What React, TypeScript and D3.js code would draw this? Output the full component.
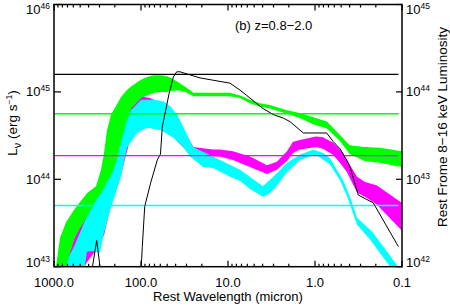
import React from 'react';
import * as d3 from 'd3';

const W = 450;
const H = 306;
const M = { left: 54, right: 48, top: 4.5, bottom: 39.3 };
const FONT = '"Liberation Sans", Arial, Helvetica, sans-serif';

// axes
const xMajor = [1000, 100, 10, 1, 0.1];
const xMajorLabels = ['1000.0', '100.0', '10.0', '1.0', '0.1'];
const leftExps = [43, 44, 45, 46];
const rightExps = [42, 43, 44, 45];

// Green band (shared wavelength grid), log10 L (erg/s)
const greenWl = [948, 853, 728, 589, 502, 418, 329, 288, 266, 246, 221, 194, 170, 149, 127, 100, 85, 71, 59, 50, 45, 38.5, 31, 25, 15, 9.5, 7.3, 5.6, 4.3, 3.3, 2.1, 1.5, 1.05, 0.73, 0.52, 0.40, 0.27, 0.18, 0.1];
const greenHi = [43.00, 43.33, 43.51, 43.65, 43.74, 43.84, 43.92, 44.11, 44.30, 44.56, 44.74, 44.84, 44.94, 45.01, 45.07, 45.14, 45.17, 45.19, 45.19, 45.18, 45.16, 45.12, 45.06, 44.99, 44.99, 44.99, 44.96, 44.91, 44.87, 44.85, 44.79, 44.76, 44.71, 44.66, 44.51, 44.39, 44.37, 44.36, 44.32];
const greenLo = [42.64, 42.78, 43.00, 43.31, 43.44, 43.57, 43.76, 43.84, 43.90, 43.97, 44.04, 44.19, 44.42, 44.64, 44.82, 44.93, 44.96, 44.99, 45.00, 45.00, 45.01, 45.02, 45.00, 44.95, 44.95, 44.95, 44.93, 44.87, 44.83, 44.81, 44.75, 44.70, 44.63, 44.58, 44.44, 44.29, 44.21, 44.19, 44.14];

// Magenta band
const magentaWl = [853, 655, 545, 418, 329, 266, 221, 170, 134, 103, 79, 60.5, 50, 35.6, 25, 15, 12.4, 8.77, 5.6, 3.56, 2.74, 2.10, 1.79, 1.49, 0.975, 0.809, 0.621, 0.516, 0.429, 0.329, 0.266, 0.194, 0.1];
const magentaHi = [43.00, 43.19, 43.40, 43.58, 43.81, 44.05, 44.34, 44.70, 44.87, 44.95, 44.93, 44.88, 44.83, 44.64, 44.37, 44.34, 44.34, 44.32, 44.26, 44.16, 44.20, 44.32, 44.43, 44.45, 44.49, 44.48, 44.42, 44.34, 44.22, 44.03, 43.97, 43.93, 43.73];
const magentaLo = [42.62, 42.73, 42.85, 43.05, 43.19, 43.36, 43.71, 44.05, 44.45, 44.62, 44.64, 44.62, 44.56, 44.40, 44.26, 44.26, 44.26, 44.22, 44.14, 44.06, 44.11, 44.21, 44.30, 44.34, 44.37, 44.35, 44.28, 44.19, 44.08, 43.85, 43.80, 43.71, 43.41];

// Cyan band (upper and lower edges)
const cyanHiWl = [809, 767, 589, 452, 347, 312, 266, 221, 189, 165, 130, 100, 71, 54.5, 46.4, 38.5, 31.2, 25.3, 14.9, 7.28, 3.96, 2.74, 2.10, 1.49, 1.05, 0.809, 0.673, 0.476, 0.396, 0.329, 0.216, 0.127, 0.1];
const cyanHi = [42.91, 43.00, 43.23, 43.50, 43.76, 43.90, 43.99, 44.07, 44.26, 44.56, 44.79, 44.91, 44.91, 44.89, 44.84, 44.74, 44.56, 44.37, 44.26, 44.11, 43.92, 44.07, 44.19, 44.28, 44.34, 44.30, 44.24, 43.99, 43.80, 43.56, 43.39, 43.08, 42.94];
const cyanLoWl = [452, 418, 366, 296, 266, 221, 170, 145, 111, 85.3, 58.9, 41.8, 32.9, 27.3, 19.4, 14.9, 9.48, 7.28, 5.59, 3.96, 3.29, 2.74, 2.10, 1.49, 0.975, 0.673, 0.516, 0.429, 0.329, 0.233, 0.137, 0.120];
const cyanLo = [42.94, 43.17, 43.18, 43.16, 43.39, 43.68, 44.03, 44.36, 44.53, 44.59, 44.56, 44.47, 44.37, 44.26, 44.14, 44.13, 44.03, 43.98, 43.89, 43.80, 43.84, 43.93, 44.08, 44.22, 44.28, 44.17, 43.99, 43.81, 43.48, 43.31, 43.00, 42.91];

// Black curve
const blackWl = [440, 361, 323, 296, 266, 108, 99.3, 96.6, 90.6, 77.4, 65.0, 59.7, 56.9, 52.0, 47.6, 42.5, 38.9, 35.6, 21.0, 9.48, 7.28, 6.10, 3.96, 3.01, 2.31, 1.94, 1.36, 1.0, 0.734, 0.616, 0.516, 0.432, 0.396, 0.318, 0.214, 0.110];
const blackL = [42.62, 43.00, 43.30, 43.00, 42.62, 42.62, 43.00, 43.23, 43.69, 43.96, 44.22, 44.29, 44.60, 44.79, 44.98, 45.17, 45.23, 45.23, 45.16, 45.10, 45.02, 44.96, 44.81, 44.74, 44.70, 44.66, 44.53, 44.53, 44.53, 44.43, 44.35, 44.22, 44.14, 43.82, 43.73, 43.23];

// Rest-frame 8-16 keV luminosities (right axis), log10
const xrayLogL = [44.20, 43.75, 43.27, 42.70];
const xrayColors = ['#000000', '#00ff00', '#ff00ff', '#00ffff'];
const xrayLineEnd = 0.11;

export default function App() {
  const x = d3.scaleLog().domain([1000, 0.1]).range([M.left, W - M.right]);
  const y = d3.scaleLog().domain([1e43, 1e46]).range([H - M.bottom, M.top]);
  const yR = d3.scaleLog().domain([1e42, 1e45]).range([H - M.bottom, M.top]);
  const x0 = M.left, x1 = W - M.right, y0 = H - M.bottom, y1 = M.top;

  const line = d3.line<[number, number]>().x(d => x(d[0])).y(d => y(Math.pow(10, d[1])));
  const band = (wh: number[], hi: number[], wl: number[], lo: number[]) => {
    const pts: [number, number][] = wh.map((w, i) => [w, hi[i]] as [number, number]);
    const ptsLo: [number, number][] = wl.map((w, i) => [w, lo[i]] as [number, number]).reverse();
    return line(pts.concat(ptsLo)) + 'Z';
  };
  const labelY = (py: number) => Math.min(Math.max(py + 4.5, 13.5), y0);

  const minor = x.ticks().filter(t => !xMajor.some(m => Math.abs(Math.log10(t) - Math.log10(m)) < 1e-6));

  return (
    <svg width={W} height={H} style={{ position: 'absolute', left: 0, top: 0, background: '#fff' }} fontFamily={FONT}>
      <defs>
        <clipPath id="plot"><rect x={x0} y={y1} width={x1 - x0} height={y0 - y1} /></clipPath>
      </defs>
      <g clipPath="url(#plot)">
        <path d={band(magentaWl, magentaHi, magentaWl, magentaLo)} fill="#ff00ff" />
        <path d={band(cyanHiWl, cyanHi, cyanLoWl, cyanLo)} fill="#00ffff" />
        <path d={band(greenWl, greenHi, greenWl, greenLo)} fill="#00ff00" />
        {xrayLogL.map((v, i) => (
          <line key={i} x1={x(1000)} x2={x(xrayLineEnd)} y1={yR(Math.pow(10, v))} y2={yR(Math.pow(10, v))} stroke={xrayColors[i]} strokeWidth={1.3} />
        ))}
        <path d={line(blackWl.map((w, i) => [w, blackL[i]] as [number, number])) || ''} fill="none" stroke="#000" strokeWidth={1} />
      </g>
      <rect x={x0} y={y1} width={x1 - x0} height={y0 - y1} fill="none" stroke="#000" strokeWidth={1.5} />
      {xMajor.map((t, i) => (
        <g key={'xm' + i}>
          <line x1={x(t)} x2={x(t)} y1={y0} y2={y0 - 6} stroke="#000" strokeWidth={1.2} />
          <line x1={x(t)} x2={x(t)} y1={y1} y2={y1 + 6} stroke="#000" strokeWidth={1.2} />
          <text x={x(t)} y={287} fontSize={13} textAnchor="middle">{xMajorLabels[i]}</text>
        </g>
      ))}
      {minor.map((t, i) => (
        <g key={'xn' + i}>
          <line x1={x(t)} x2={x(t)} y1={y0} y2={y0 - 3} stroke="#000" strokeWidth={1.2} />
          <line x1={x(t)} x2={x(t)} y1={y1} y2={y1 + 3} stroke="#000" strokeWidth={1.2} />
        </g>
      ))}
      {leftExps.map(e => (
        <g key={'l' + e}>
          <line x1={x0} x2={x0 + 7} y1={y(Math.pow(10, e))} y2={y(Math.pow(10, e))} stroke="#000" strokeWidth={1.2} />
          <text x={50} y={labelY(y(Math.pow(10, e)))} fontSize={13} textAnchor="end">10<tspan dy={-5} fontSize={8.5}>{e}</tspan></text>
        </g>
      ))}
      {rightExps.map(e => (
        <g key={'r' + e}>
          <line x1={x1} x2={x1 - 6} y1={yR(Math.pow(10, e))} y2={yR(Math.pow(10, e))} stroke="#000" strokeWidth={1.2} />
          <text x={406} y={labelY(yR(Math.pow(10, e)))} fontSize={13} textAnchor="start">10<tspan dy={-5} fontSize={8.5}>{e}</tspan></text>
        </g>
      ))}
      <text x={228} y={301} fontSize={13} textAnchor="middle">Rest Wavelength (micron)</text>
      <text x={235} y={30} fontSize={13}>(b) z=0.8−2.0</text>
      <text transform="translate(17,123) rotate(-90)" fontSize={13.5} textAnchor="middle">L<tspan dy={4} fontSize={11}>ν</tspan><tspan dy={-4}> (erg s</tspan><tspan dy={-5} fontSize={8.5}>−1</tspan><tspan dy={5}>)</tspan></text>
      <text transform="translate(447,127) rotate(-90)" fontSize={13.5} textAnchor="middle">Rest Frome 8−16 keV Luminosity</text>
    </svg>
  );
}
